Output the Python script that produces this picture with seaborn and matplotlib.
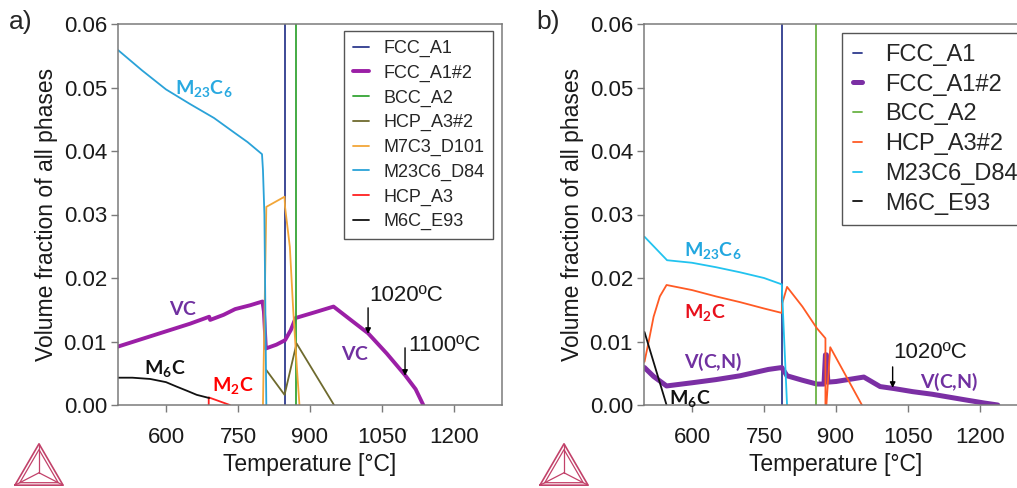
import matplotlib
matplotlib.use("Agg")
import matplotlib.pyplot as plt
import seaborn as sns

# ---------------- data: panel a ----------------
A_FCC_T = [847, 847, 1300]
A_FCC_V = [0.0, 0.95, 0.97]
A_FCC2_T = [500, 550, 600, 650, 690, 692, 720, 744, 775, 801, 804, 808, 830, 848, 860,
            870, 910, 949, 990, 1021, 1060, 1098, 1120, 1136]
A_FCC2_V = [0.0092, 0.0104, 0.0116, 0.0128, 0.0139, 0.0134, 0.0142, 0.0151, 0.0157, 0.0163,
            0.0147, 0.0089, 0.0095, 0.0102, 0.0118, 0.0137, 0.0146, 0.0155, 0.0131, 0.0113,
            0.0081, 0.0047, 0.0025, 0.0]
A_BCC_T = [500, 870, 870]
A_BCC_V = [0.93, 0.90, 0.0]
A_HCP2_T = [809, 847, 872, 950]
A_HCP2_V = [0.0055, 0.0016, 0.0097, 0.0]
A_M7C3_T = [802, 809, 847, 848, 858, 865, 873, 878]
A_M7C3_V = [0.0, 0.0312, 0.0328, 0.0312, 0.0249, 0.0150, 0.0055, 0.0]
A_M23_T = [500, 550, 600, 650, 700, 744, 770, 800, 802, 805, 809]
A_M23_V = [0.0559, 0.0527, 0.0497, 0.0474, 0.0452, 0.0428, 0.0414, 0.0395, 0.0370, 0.0300, 0.0]
A_HCP_T = [689, 689, 733]
A_HCP_V = [0.0, 0.0012, 0.0]
A_M6C_T = [500, 530, 567, 600, 622, 645, 664, 690]
A_M6C_V = [0.0043, 0.0043, 0.0041, 0.0036, 0.0029, 0.0022, 0.0016, 0.0011]

# ---------------- data: panel b ----------------
B_FCC_T = [787.5, 787.5, 1300]
B_FCC_V = [0.0, 0.95, 0.97]
B_FCC2_T = [501, 520, 547, 600, 650, 700, 759, 787, 798, 830, 860, 875, 878, 880, 883, 900,
            958, 992, 1020, 1060, 1100, 1131, 1170, 1210, 1237]
B_FCC2_V = [0.0059, 0.0045, 0.0030, 0.0035, 0.0040, 0.0046, 0.0056, 0.0059, 0.0046, 0.0039,
            0.0033, 0.0033, 0.0079, 0.0079, 0.0036, 0.0037, 0.0044, 0.0029, 0.0026, 0.0021,
            0.0017, 0.0013, 0.0008, 0.0003, 0.0]
B_BCC_T = [500, 859, 859]
B_BCC_V = [0.90, 0.90, 0.0]
B_HCP2_T = [501, 509, 520, 533, 547, 600, 650, 700, 750, 787, 788, 798, 830, 860, 878, 878,
            880, 888, 954]
B_HCP2_V = [0.0068, 0.0097, 0.0139, 0.0171, 0.0189, 0.0181, 0.0171, 0.0162, 0.0152, 0.0145,
            0.0160, 0.0186, 0.0155, 0.0121, 0.0105, 0.0, 0.0, 0.0091, 0.0]
B_M23_T = [501, 548, 600, 650, 700, 750, 787, 798]
B_M23_V = [0.0265, 0.0228, 0.0224, 0.0217, 0.0209, 0.0200, 0.0190, 0.0]
B_M6C_T = [501, 547]
B_M6C_V = [0.0115, 0.0]

X_TICKS = [600, 750, 900, 1050, 1200]
Y_TICKS = [0.00, 0.01, 0.02, 0.03, 0.04, 0.05, 0.06]
LOGO_X = [0.0, 1.0, 0.5, 0.0]
LOGO_Y = [0.0, 0.0, 1.0, 0.0]

# ---------------- style ----------------
sns.set_style("white")
plt.rcParams["font.family"] = ["Liberation Sans", "DejaVu Sans"]
plt.rcParams["mathtext.fontset"] = "custom"
plt.rcParams["mathtext.rm"] = "Lato"
plt.rcParams["mathtext.bf"] = "Lato:bold"
plt.rcParams["mathtext.it"] = "Lato:italic"

SPINE = "#7a7a7a"
W, H = 1017, 488
fig = plt.figure(figsize=(W / 100, H / 100), dpi=100)
ax_a = fig.add_axes([118 / W, 83 / H, 384 / W, 381 / H])
ax_b = fig.add_axes([644 / W, 83 / H, 384 / W, 381 / H])

series_a = [
    ("FCC_A1", A_FCC_T, A_FCC_V, "#2e3a8e", 1.3),
    ("FCC_A1#2", A_FCC2_T, A_FCC2_V, "#9b1fa6", 2.8),
    ("BCC_A2", A_BCC_T, A_BCC_V, "#35a535", 1.3),
    ("HCP_A3#2", A_HCP2_T, A_HCP2_V, "#6e6a2e", 1.3),
    ("M7C3_D101", A_M7C3_T, A_M7C3_V, "#f2a638", 1.3),
    ("M23C6_D84", A_M23_T, A_M23_V, "#2aa2d8", 1.3),
    ("HCP_A3", A_HCP_T, A_HCP_V, "#ff2020", 1.3),
    ("M6C_E93", A_M6C_T, A_M6C_V, "#111111", 1.3),
]
series_b = [
    ("FCC_A1", B_FCC_T, B_FCC_V, "#2e3a8e", 1.3),
    ("FCC_A1#2", B_FCC2_T, B_FCC2_V, "#7b2fa4", 3.6),
    ("BCC_A2", B_BCC_T, B_BCC_V, "#6ab344", 1.3),
    ("HCP_A3#2", B_HCP2_T, B_HCP2_V, "#ff5a24", 1.3),
    ("M23C6_D84", B_M23_T, B_M23_V, "#22c3ef", 1.3),
    ("M6C_E93", B_M6C_T, B_M6C_V, "#111111", 1.3),
]


def draw(ax, series):
    for name, t, v, c, lw in series:
        sns.lineplot(x=t, y=v, ax=ax, color=c, linewidth=lw, label=name,
                     sort=False, estimator=None)
    ax.set_xlim(500, 1300)
    ax.set_ylim(0, 0.06)
    ax.set_xticks(X_TICKS)
    ax.set_xticklabels([str(t) for t in X_TICKS])
    ax.set_yticks(Y_TICKS)
    ax.set_yticklabels([f"{t:.2f}" for t in Y_TICKS])
    ax.tick_params(axis="both", direction="out", length=5, width=1, color=SPINE,
                   labelsize=16, labelcolor="#1a1a1a")
    ax.tick_params(axis="x", pad=11, bottom=True)
    ax.tick_params(axis="y", pad=3, left=True)
    for s in ax.spines.values():
        s.set_color(SPINE)
        s.set_linewidth(1.1)
    ax.set_xlabel("Temperature [°C]", fontsize=16.5, color="#1a1a1a")
    ax.set_ylabel("Volume fraction of all phases", fontsize=16.5, color="#1a1a1a")
    ax.xaxis.set_label_coords(0.5, -0.125)
    ax.yaxis.set_label_coords(-0.155, 0.5)


draw(ax_a, series_a)
draw(ax_b, series_b)

leg_a = ax_a.legend(loc="upper right", bbox_to_anchor=(0.977, 0.982), borderaxespad=0,
                    fontsize=13, handlelength=0.85, handletextpad=0.8, labelspacing=0.42,
                    borderpad=0.5, fancybox=False, framealpha=1, edgecolor="#555555")
leg_a.get_frame().set_linewidth(1.0)
leg_b = ax_b.legend(loc="upper left", bbox_to_anchor=(0.516, 0.976), borderaxespad=0,
                    fontsize=17, handlelength=0.4, handletextpad=0.95, labelspacing=0.33,
                    borderpad=0.45, fancybox=False, framealpha=1, edgecolor="#555555")
leg_b.get_frame().set_linewidth(1.0)

# ---------------- phase labels ----------------
LBL = dict(fontsize=14, ha="center", va="center")
ax_a.text(679, 0.0499, r"$\mathbf{M_{23}C_6}$", color="#29a9e0", **LBL)
ax_a.text(635, 0.0150, r"$\mathbf{VC}$", color="#7030a0", **LBL)
ax_a.text(994, 0.0079, r"$\mathbf{VC}$", color="#7030a0", **LBL)
ax_a.text(598, 0.0058, r"$\mathbf{M_6C}$", color="#111111", **LBL)
ax_a.text(740, 0.0031, r"$\mathbf{M_2C}$", color="#ff0000", **LBL)

ax_b.text(644, 0.0244, r"$\mathbf{M_{23}C_6}$", color="#22a7df", **LBL)
ax_b.text(627, 0.0145, r"$\mathbf{M_2C}$", color="#e8101c", **LBL)
ax_b.text(644, 0.0068, r"$\mathbf{V(C{,}N)}$", color="#7030a0", **LBL)
ax_b.text(596, 0.0011, r"$\mathbf{M_6C}$", color="#111111", **LBL)
ax_b.text(1135, 0.0036, r"$\mathbf{V(C{,}N)}$", color="#7030a0", **LBL)

ARR = dict(arrowstyle="-|>", lw=1.0, color="black", mutation_scale=8, shrinkA=0, shrinkB=0)
ax_a.text(1100, 0.0173, "1020ºC", fontsize=16, ha="center", va="center", color="#1a1a1a")
ax_a.annotate("", xy=(1021, 0.0112), xytext=(1021, 0.0153), arrowprops=ARR)
ax_a.text(1180, 0.0094, "1100ºC", fontsize=16, ha="center", va="center", color="#1a1a1a")
ax_a.annotate("", xy=(1098, 0.0046), xytext=(1098, 0.0090), arrowprops=ARR)
ax_b.text(1096, 0.0082, "1020ºC", fontsize=16, ha="center", va="center", color="#1a1a1a")
ax_b.annotate("", xy=(1018, 0.0027), xytext=(1018, 0.0060), arrowprops=ARR)

# panel letters
fig.text(9 / W, 1 - 22 / H, "a)", fontsize=19, va="center", ha="left")
fig.text(536 / W, 1 - 22 / H, "b)", fontsize=19, va="center", ha="left")

# Thermo-Calc style logos
for x0 in (14, 539):
    lg = fig.add_axes([x0 / W, 2 / H, 50 / W, 43 / H])
    lg.plot(LOGO_X, LOGO_Y, color="#c2426a", lw=1.2)
    lg.plot([0.1, 0.9, 0.5, 0.1], [0.06, 0.06, 0.86, 0.06], color="#c2426a", lw=0.9)
    for vx, vy in zip(LOGO_X[:3], LOGO_Y[:3]):
        lg.plot([0.5, vx], [0.3, vy], color="#c2426a", lw=0.9)
    lg.set_xlim(-0.02, 1.02)
    lg.set_ylim(-0.02, 1.02)
    lg.axis("off")

fig.savefig("out.png", dpi=100)
